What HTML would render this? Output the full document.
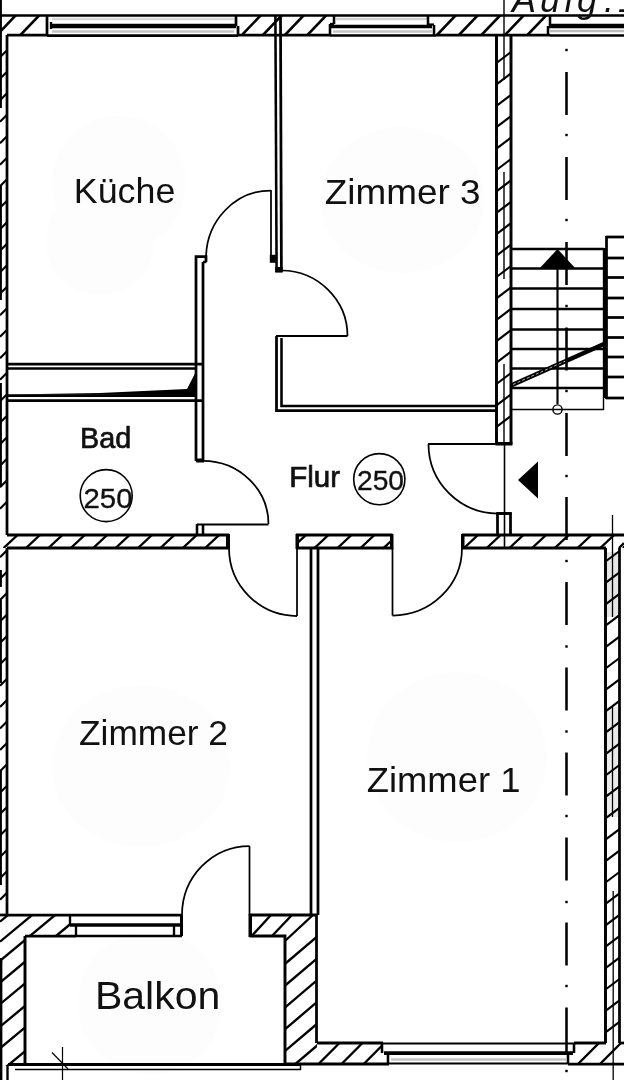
<!DOCTYPE html>
<html><head><meta charset="utf-8"><title>Grundriss</title>
<style>
html,body{margin:0;padding:0;background:#fff;}
body{width:624px;height:1080px;overflow:hidden;position:relative;font-family:"Liberation Sans",sans-serif;}
svg{position:absolute;left:0;top:0;display:block;filter:grayscale(1)}
text{font-family:"Liberation Sans",sans-serif;fill:#111;}
.big{font-size:34.5px;}
.sm{font-size:30px;stroke:#111;stroke-width:0.7px;}
.num{font-size:28.5px;stroke:#111;stroke-width:0.35px;}
</style></head><body>
<svg width="624" height="1080" viewBox="0 0 624 1080" shape-rendering="geometricPrecision">
<rect width="624" height="1080" fill="#fff"/>
<ellipse cx="119" cy="183" rx="67" ry="67" fill="#fdfdfd"/>
<ellipse cx="100" cy="241" rx="54" ry="54" fill="#fdfdfd"/>
<ellipse cx="402" cy="200" rx="82" ry="73" fill="#fdfdfd"/>
<ellipse cx="141" cy="766" rx="89" ry="81" fill="#fdfdfd"/>
<ellipse cx="457" cy="757" rx="90" ry="85" fill="#fdfdfd"/>
<ellipse cx="150" cy="1003" rx="72" ry="72" fill="#fdfdfd"/>
<line x1="0" y1="15.5" x2="624" y2="15.5" stroke="#000" stroke-width="2.35" />
<line x1="7" y1="35" x2="47" y2="35" stroke="#000" stroke-width="2.75" />
<line x1="47" y1="35.5" x2="238" y2="35.5" stroke="#000" stroke-width="2.75" />
<line x1="238" y1="35" x2="330" y2="35" stroke="#000" stroke-width="2.75" />
<line x1="330" y1="35.5" x2="436" y2="35.5" stroke="#000" stroke-width="2.55" />
<line x1="436" y1="35" x2="550" y2="35" stroke="#000" stroke-width="2.75" />
<line x1="550" y1="35.5" x2="624" y2="35.5" stroke="#000" stroke-width="2.55" />
<clipPath id="ctop"><rect x="0" y="15" width="47" height="20"/><rect x="238" y="15" width="93" height="20"/><rect x="432" y="15" width="116" height="20"/></clipPath>
<g clip-path="url(#ctop)">
<line x1="-3" y1="35" x2="16" y2="15" stroke="#000" stroke-width="2.55" />
<line x1="20.5" y1="35" x2="39.5" y2="15" stroke="#000" stroke-width="2.55" />
<line x1="242" y1="35" x2="261" y2="15" stroke="#000" stroke-width="2.55" />
<line x1="263" y1="35" x2="282" y2="15" stroke="#000" stroke-width="2.55" />
<line x1="285" y1="35" x2="304" y2="15" stroke="#000" stroke-width="2.55" />
<line x1="307.5" y1="35" x2="326.5" y2="15" stroke="#000" stroke-width="2.55" />
<line x1="437" y1="35" x2="456" y2="15" stroke="#000" stroke-width="2.55" />
<line x1="459" y1="35" x2="478" y2="15" stroke="#000" stroke-width="2.55" />
<line x1="481.5" y1="35" x2="500.5" y2="15" stroke="#000" stroke-width="2.55" />
<line x1="505" y1="35" x2="524" y2="15" stroke="#000" stroke-width="2.55" />
<line x1="527.5" y1="35" x2="546.5" y2="15" stroke="#000" stroke-width="2.55" />
</g>
<line x1="47" y1="15" x2="47" y2="35" stroke="#000" stroke-width="2.75" />
<line x1="51" y1="22" x2="51" y2="29" stroke="#000" stroke-width="2.35" />
<line x1="50" y1="26" x2="236" y2="26" stroke="#000" stroke-width="4.35" />
<line x1="52" y1="31.5" x2="234" y2="31.5" stroke="#c4c4c4" stroke-width="2.35" />
<line x1="52" y1="19" x2="234" y2="19" stroke="#d8d8d8" stroke-width="2.35" />
<line x1="236" y1="15" x2="236" y2="26" stroke="#000" stroke-width="2.75" />
<line x1="238" y1="26" x2="238" y2="35" stroke="#000" stroke-width="2.75" />
<line x1="334" y1="15" x2="334" y2="24" stroke="#000" stroke-width="2.55" />
<line x1="330" y1="24" x2="330" y2="35" stroke="#000" stroke-width="2.55" />
<line x1="330" y1="24" x2="334" y2="24" stroke="#000" stroke-width="2.35" />
<line x1="331" y1="26.5" x2="432" y2="26.5" stroke="#000" stroke-width="3.35" />
<line x1="333" y1="31.5" x2="432" y2="31.5" stroke="#c4c4c4" stroke-width="2.35" />
<line x1="336" y1="19" x2="427" y2="19" stroke="#d0d0d0" stroke-width="2.35" />
<line x1="428" y1="15" x2="428" y2="25" stroke="#000" stroke-width="2.55" />
<line x1="434" y1="25" x2="434" y2="35" stroke="#000" stroke-width="2.55" />
<line x1="428" y1="24.5" x2="434" y2="24.5" stroke="#000" stroke-width="2.15" />
<line x1="550" y1="15" x2="550" y2="26" stroke="#000" stroke-width="2.55" />
<line x1="548" y1="26" x2="548" y2="35" stroke="#000" stroke-width="2.55" />
<line x1="549" y1="26" x2="624" y2="26" stroke="#000" stroke-width="4.55" />
<line x1="550" y1="31" x2="624" y2="31" stroke="#bbb" stroke-width="2.35" />
<line x1="7" y1="35" x2="7" y2="535" stroke="#000" stroke-width="2.75" />
<line x1="7" y1="548" x2="7" y2="915" stroke="#000" stroke-width="2.75" />
<line x1="0.5" y1="0" x2="0.5" y2="108" stroke="#000" stroke-width="2.85" />
<line x1="0.5" y1="185" x2="0.5" y2="300" stroke="#000" stroke-width="2.85" />
<line x1="0.5" y1="383" x2="0.5" y2="487" stroke="#000" stroke-width="2.85" />
<line x1="0.5" y1="570" x2="0.5" y2="587" stroke="#000" stroke-width="2.85" />
<line x1="0.5" y1="600" x2="0.5" y2="683" stroke="#000" stroke-width="2.85" />
<line x1="0.5" y1="770" x2="0.5" y2="885" stroke="#000" stroke-width="2.85" />
<line x1="0" y1="57.2" x2="7" y2="50.2" stroke="#000" stroke-width="2.15" />
<line x1="0" y1="78.7" x2="7" y2="71.7" stroke="#000" stroke-width="2.15" />
<line x1="0" y1="100.2" x2="7" y2="93.2" stroke="#000" stroke-width="2.15" />
<line x1="0" y1="121.7" x2="7" y2="114.7" stroke="#000" stroke-width="2.15" />
<line x1="0" y1="143.2" x2="7" y2="136.2" stroke="#000" stroke-width="2.15" />
<line x1="0" y1="164.7" x2="7" y2="157.7" stroke="#000" stroke-width="2.15" />
<line x1="0" y1="186.2" x2="7" y2="179.2" stroke="#000" stroke-width="2.15" />
<line x1="0" y1="207.7" x2="7" y2="200.7" stroke="#000" stroke-width="2.15" />
<line x1="0" y1="229.2" x2="7" y2="222.2" stroke="#000" stroke-width="2.15" />
<line x1="0" y1="250.7" x2="7" y2="243.7" stroke="#000" stroke-width="2.15" />
<line x1="0" y1="272.2" x2="7" y2="265.2" stroke="#000" stroke-width="2.15" />
<line x1="0" y1="293.7" x2="7" y2="286.7" stroke="#000" stroke-width="2.15" />
<line x1="0" y1="315.2" x2="7" y2="308.2" stroke="#000" stroke-width="2.15" />
<line x1="0" y1="336.7" x2="7" y2="329.7" stroke="#000" stroke-width="2.15" />
<line x1="0" y1="358.2" x2="7" y2="351.2" stroke="#000" stroke-width="2.15" />
<line x1="0" y1="379.7" x2="7" y2="372.7" stroke="#000" stroke-width="2.15" />
<line x1="0" y1="401.2" x2="7" y2="394.2" stroke="#000" stroke-width="2.15" />
<line x1="0" y1="422.7" x2="7" y2="415.7" stroke="#000" stroke-width="2.15" />
<line x1="0" y1="444.2" x2="7" y2="437.2" stroke="#000" stroke-width="2.15" />
<line x1="0" y1="465.7" x2="7" y2="458.7" stroke="#000" stroke-width="2.15" />
<line x1="0" y1="487.2" x2="7" y2="480.2" stroke="#000" stroke-width="2.15" />
<line x1="0" y1="508.7" x2="7" y2="501.7" stroke="#000" stroke-width="2.15" />
<line x1="0" y1="557.3" x2="7" y2="550.3" stroke="#000" stroke-width="2.15" />
<line x1="0" y1="578.7" x2="7" y2="571.7" stroke="#000" stroke-width="2.15" />
<line x1="0" y1="600.1" x2="7" y2="593.1" stroke="#000" stroke-width="2.15" />
<line x1="0" y1="621.5" x2="7" y2="614.5" stroke="#000" stroke-width="2.15" />
<line x1="0" y1="642.9" x2="7" y2="635.9" stroke="#000" stroke-width="2.15" />
<line x1="0" y1="664.3" x2="7" y2="657.3" stroke="#000" stroke-width="2.15" />
<line x1="0" y1="685.7" x2="7" y2="678.7" stroke="#000" stroke-width="2.15" />
<line x1="0" y1="707.1" x2="7" y2="700.1" stroke="#000" stroke-width="2.15" />
<line x1="0" y1="728.5" x2="7" y2="721.5" stroke="#000" stroke-width="2.15" />
<line x1="0" y1="749.9" x2="7" y2="742.9" stroke="#000" stroke-width="2.15" />
<line x1="0" y1="771.3" x2="7" y2="764.3" stroke="#000" stroke-width="2.15" />
<line x1="0" y1="792.7" x2="7" y2="785.7" stroke="#000" stroke-width="2.15" />
<line x1="0" y1="814.1" x2="7" y2="807.1" stroke="#000" stroke-width="2.15" />
<line x1="0" y1="835.5" x2="7" y2="828.5" stroke="#000" stroke-width="2.15" />
<line x1="0" y1="856.9" x2="7" y2="849.9" stroke="#000" stroke-width="2.15" />
<line x1="0" y1="878.3" x2="7" y2="871.3" stroke="#000" stroke-width="2.15" />
<line x1="0" y1="899.7" x2="7" y2="892.7" stroke="#000" stroke-width="2.15" />
<line x1="275.4" y1="16" x2="276.6" y2="272" stroke="#000" stroke-width="2.55" />
<line x1="280.5" y1="16" x2="281.4" y2="272" stroke="#000" stroke-width="2.75" />
<rect x="269.8" y="254.8" width="6" height="8" fill="#000"/>
<rect x="275.2" y="267" width="7.4" height="5.6" fill="#000"/>
<line x1="271" y1="190" x2="271" y2="262" stroke="#000" stroke-width="1.75" />
<path d="M271,190.5 A65,68 0 0 0 206,258" stroke="#000" stroke-width="1.75" fill="none" />
<path d="M206,262 L206,256.5 L196,256.5 L196,461" stroke="#000" stroke-width="2.75" fill="none" />
<line x1="203" y1="262" x2="203" y2="461" stroke="#000" stroke-width="2.75" />
<line x1="203" y1="262" x2="206.5" y2="262" stroke="#000" stroke-width="2.35" />
<line x1="7" y1="364" x2="203" y2="364" stroke="#000" stroke-width="2.75" />
<line x1="7" y1="368.5" x2="196" y2="368.5" stroke="#000" stroke-width="2.55" />
<line x1="7" y1="395.5" x2="196" y2="395.5" stroke="#000" stroke-width="2.75" />
<line x1="7" y1="400.5" x2="203" y2="400.5" stroke="#000" stroke-width="2.75" />
<path d="M8,394.5 L100,393 L187,389 L197,369.5 L197,395 Z" stroke="#000" stroke-width="0" fill="#000" />
<path d="M281.5,270.5 A66.5,65.5 0 0 1 347.5,336" stroke="#000" stroke-width="1.75" fill="none" />
<line x1="276" y1="336" x2="347.5" y2="336" stroke="#000" stroke-width="1.79" />
<path d="M276.5,336 L276.5,410.5 L497,410.5" stroke="#000" stroke-width="2.75" fill="none" />
<path d="M281.5,338 L281.5,406 L497,406" stroke="#000" stroke-width="2.55" fill="none" />
<line x1="496.5" y1="35" x2="496.5" y2="444" stroke="#000" stroke-width="2.95" />
<line x1="511" y1="35" x2="511" y2="444" stroke="#000" stroke-width="2.95" />
<line x1="504" y1="0" x2="504" y2="80" stroke="#000" stroke-width="1.4" />
<line x1="504" y1="172" x2="504" y2="279" stroke="#000" stroke-width="1.4" />
<line x1="504" y1="364" x2="504" y2="444" stroke="#000" stroke-width="1.4" />
<line x1="504.5" y1="444" x2="504.5" y2="548" stroke="#000" stroke-width="1.6" />
<line x1="496.5" y1="63" x2="511" y2="52" stroke="#000" stroke-width="2.15" />
<line x1="496.5" y1="84.4" x2="511" y2="73.4" stroke="#000" stroke-width="2.15" />
<line x1="496.5" y1="105.8" x2="511" y2="94.8" stroke="#000" stroke-width="2.15" />
<line x1="496.5" y1="127.2" x2="511" y2="116.2" stroke="#000" stroke-width="2.15" />
<line x1="496.5" y1="148.6" x2="511" y2="137.6" stroke="#000" stroke-width="2.15" />
<line x1="496.5" y1="170.0" x2="511" y2="159.0" stroke="#000" stroke-width="2.15" />
<line x1="496.5" y1="191.4" x2="511" y2="180.4" stroke="#000" stroke-width="2.15" />
<line x1="496.5" y1="212.8" x2="511" y2="201.8" stroke="#000" stroke-width="2.15" />
<line x1="496.5" y1="234.2" x2="511" y2="223.2" stroke="#000" stroke-width="2.15" />
<line x1="496.5" y1="255.6" x2="511" y2="244.6" stroke="#000" stroke-width="2.15" />
<line x1="496.5" y1="277.0" x2="511" y2="266.0" stroke="#000" stroke-width="2.15" />
<line x1="496.5" y1="298.4" x2="511" y2="287.4" stroke="#000" stroke-width="2.15" />
<line x1="496.5" y1="319.8" x2="511" y2="308.8" stroke="#000" stroke-width="2.15" />
<line x1="496.5" y1="341.2" x2="511" y2="330.2" stroke="#000" stroke-width="2.15" />
<line x1="496.5" y1="362.6" x2="511" y2="351.6" stroke="#000" stroke-width="2.15" />
<line x1="496.5" y1="384.0" x2="511" y2="373.0" stroke="#000" stroke-width="2.15" />
<line x1="496.5" y1="405.4" x2="511" y2="394.4" stroke="#000" stroke-width="2.15" />
<line x1="496.5" y1="426.8" x2="511" y2="415.8" stroke="#000" stroke-width="2.15" />
<rect x="495.5" y="442" width="17" height="3.5" fill="#000"/>
<line x1="428" y1="444" x2="497" y2="444" stroke="#000" stroke-width="1.79" />
<path d="M428.5,444 A69.5,69.5 0 0 0 498,513.5" stroke="#000" stroke-width="1.75" fill="none" />
<path d="M497.5,535 L497.5,513.5 L510.5,513.5 L510.5,535" stroke="#000" stroke-width="2.75" fill="none" />
<rect x="496.5" y="512" width="15" height="3" fill="#000"/>
<line x1="7" y1="535" x2="229" y2="535" stroke="#000" stroke-width="2.95" />
<line x1="7" y1="548" x2="229" y2="548" stroke="#000" stroke-width="2.95" />
<rect x="226" y="534" width="4" height="15" fill="#000"/>
<line x1="296" y1="535" x2="392.5" y2="535" stroke="#000" stroke-width="2.95" />
<line x1="296" y1="548" x2="392.5" y2="548" stroke="#000" stroke-width="2.95" />
<rect x="295.5" y="534" width="3.5" height="15" fill="#000"/>
<rect x="390" y="534" width="3.5" height="15" fill="#000"/>
<line x1="462" y1="535" x2="624" y2="535" stroke="#000" stroke-width="2.95" />
<line x1="462" y1="548" x2="606" y2="548" stroke="#000" stroke-width="2.95" />
<rect x="461" y="534" width="3.5" height="15" fill="#000"/>
<clipPath id="cmid"><rect x="0" y="535" width="228" height="13"/><rect x="297" y="535" width="94" height="13"/><rect x="464" y="535" width="160" height="13"/></clipPath>
<g clip-path="url(#cmid)">
<line x1="3.6" y1="548" x2="17.6" y2="535" stroke="#000" stroke-width="2.35" />
<line x1="26.0" y1="548" x2="40.0" y2="535" stroke="#000" stroke-width="2.35" />
<line x1="48.4" y1="548" x2="62.4" y2="535" stroke="#000" stroke-width="2.35" />
<line x1="70.8" y1="548" x2="84.8" y2="535" stroke="#000" stroke-width="2.35" />
<line x1="93.2" y1="548" x2="107.2" y2="535" stroke="#000" stroke-width="2.35" />
<line x1="115.6" y1="548" x2="129.6" y2="535" stroke="#000" stroke-width="2.35" />
<line x1="138.0" y1="548" x2="152.0" y2="535" stroke="#000" stroke-width="2.35" />
<line x1="160.4" y1="548" x2="174.4" y2="535" stroke="#000" stroke-width="2.35" />
<line x1="182.8" y1="548" x2="196.8" y2="535" stroke="#000" stroke-width="2.35" />
<line x1="205.2" y1="548" x2="219.2" y2="535" stroke="#000" stroke-width="2.35" />
<line x1="292" y1="548" x2="306" y2="535" stroke="#000" stroke-width="2.35" />
<line x1="314.5" y1="548" x2="328.5" y2="535" stroke="#000" stroke-width="2.35" />
<line x1="337.5" y1="548" x2="351.5" y2="535" stroke="#000" stroke-width="2.35" />
<line x1="360.5" y1="548" x2="374.5" y2="535" stroke="#000" stroke-width="2.35" />
<line x1="383.5" y1="548" x2="397.5" y2="535" stroke="#000" stroke-width="2.35" />
<line x1="464" y1="548" x2="478" y2="535" stroke="#000" stroke-width="2.35" />
<line x1="486.7" y1="548" x2="500.7" y2="535" stroke="#000" stroke-width="2.35" />
<line x1="509.4" y1="548" x2="523.4" y2="535" stroke="#000" stroke-width="2.35" />
<line x1="532.1" y1="548" x2="546.1" y2="535" stroke="#000" stroke-width="2.35" />
<line x1="554.8" y1="548" x2="568.8" y2="535" stroke="#000" stroke-width="2.35" />
<line x1="577.5" y1="548" x2="591.5" y2="535" stroke="#000" stroke-width="2.35" />
<line x1="600.2" y1="548" x2="614.2" y2="535" stroke="#000" stroke-width="2.35" />
<line x1="622.9" y1="548" x2="636.9" y2="535" stroke="#000" stroke-width="2.35" />
</g>
<line x1="197" y1="524.5" x2="268.5" y2="524.5" stroke="#000" stroke-width="1.79" />
<path d="M203,460.8 A65.5,63.5 0 0 1 268.5,524" stroke="#000" stroke-width="1.75" fill="none" />
<rect x="196" y="458.5" width="8" height="4" fill="#000"/>
<line x1="197" y1="524" x2="197" y2="535" stroke="#000" stroke-width="2.55" />
<line x1="203" y1="524" x2="203" y2="535" stroke="#000" stroke-width="2.55" />
<line x1="297" y1="548" x2="297" y2="616" stroke="#000" stroke-width="1.75" />
<path d="M229,548 A68,68 0 0 0 297,616" stroke="#000" stroke-width="1.75" fill="none" />
<line x1="392.5" y1="548" x2="392.5" y2="615.5" stroke="#000" stroke-width="1.75" />
<path d="M392.5,615.5 A69.5,67.5 0 0 0 462,548" stroke="#000" stroke-width="1.75" fill="none" />
<line x1="311" y1="548" x2="311" y2="915" stroke="#000" stroke-width="2.75" />
<line x1="318" y1="548" x2="318" y2="915" stroke="#000" stroke-width="2.75" />
<line x1="605.5" y1="548" x2="605.5" y2="1043" stroke="#000" stroke-width="2.95" />
<line x1="619.5" y1="548" x2="619.5" y2="1043" stroke="#000" stroke-width="2.75" />
<line x1="619.5" y1="1043" x2="624" y2="1043" stroke="#000" stroke-width="2.75" />
<line x1="612.5" y1="515" x2="612.5" y2="617" stroke="#000" stroke-width="1.3" />
<line x1="612.5" y1="707" x2="612.5" y2="817" stroke="#000" stroke-width="1.3" />
<line x1="613.2" y1="891" x2="613.2" y2="1080" stroke="#000" stroke-width="1.3" />
<line x1="605.5" y1="561.5" x2="619.5" y2="551.0" stroke="#000" stroke-width="2.15" />
<line x1="605.5" y1="582.9" x2="619.5" y2="572.4" stroke="#000" stroke-width="2.15" />
<line x1="605.5" y1="604.3" x2="619.5" y2="593.8" stroke="#000" stroke-width="2.15" />
<line x1="605.5" y1="625.7" x2="619.5" y2="615.2" stroke="#000" stroke-width="2.15" />
<line x1="605.5" y1="647.1" x2="619.5" y2="636.6" stroke="#000" stroke-width="2.15" />
<line x1="605.5" y1="668.5" x2="619.5" y2="658.0" stroke="#000" stroke-width="2.15" />
<line x1="605.5" y1="689.9" x2="619.5" y2="679.4" stroke="#000" stroke-width="2.15" />
<line x1="605.5" y1="711.3" x2="619.5" y2="700.8" stroke="#000" stroke-width="2.15" />
<line x1="605.5" y1="732.7" x2="619.5" y2="722.2" stroke="#000" stroke-width="2.15" />
<line x1="605.5" y1="754.1" x2="619.5" y2="743.6" stroke="#000" stroke-width="2.15" />
<line x1="605.5" y1="775.5" x2="619.5" y2="765.0" stroke="#000" stroke-width="2.15" />
<line x1="605.5" y1="796.9" x2="619.5" y2="786.4" stroke="#000" stroke-width="2.15" />
<line x1="605.5" y1="818.3" x2="619.5" y2="807.8" stroke="#000" stroke-width="2.15" />
<line x1="605.5" y1="839.7" x2="619.5" y2="829.2" stroke="#000" stroke-width="2.15" />
<line x1="605.5" y1="861.1" x2="619.5" y2="850.6" stroke="#000" stroke-width="2.15" />
<line x1="605.5" y1="882.5" x2="619.5" y2="872.0" stroke="#000" stroke-width="2.15" />
<line x1="605.5" y1="903.9" x2="619.5" y2="893.4" stroke="#000" stroke-width="2.15" />
<line x1="605.5" y1="925.3" x2="619.5" y2="914.8" stroke="#000" stroke-width="2.15" />
<line x1="605.5" y1="946.7" x2="619.5" y2="936.2" stroke="#000" stroke-width="2.15" />
<line x1="605.5" y1="968.1" x2="619.5" y2="957.6" stroke="#000" stroke-width="2.15" />
<line x1="605.5" y1="989.5" x2="619.5" y2="979.0" stroke="#000" stroke-width="2.15" />
<line x1="605.5" y1="1010.9" x2="619.5" y2="1000.4" stroke="#000" stroke-width="2.15" />
<line x1="605.5" y1="1032.3" x2="619.5" y2="1021.8" stroke="#000" stroke-width="2.15" />
<rect x="607" y="552" width="11.5" height="65" fill="#000" opacity="0.10"/><rect x="607" y="707" width="11.5" height="110" fill="#000" opacity="0.08"/>
<line x1="619" y1="548" x2="624" y2="543" stroke="#000" stroke-width="2.35" />
<line x1="511" y1="249" x2="604" y2="249" stroke="#000" stroke-width="2.55" />
<line x1="511" y1="268.5" x2="604" y2="268.5" stroke="#000" stroke-width="2.55" />
<line x1="511" y1="288.5" x2="604" y2="288.5" stroke="#000" stroke-width="2.55" />
<line x1="511" y1="309" x2="604" y2="309" stroke="#000" stroke-width="2.55" />
<line x1="511" y1="329.5" x2="604" y2="329.5" stroke="#000" stroke-width="2.55" />
<line x1="511" y1="349" x2="604" y2="349" stroke="#000" stroke-width="2.55" />
<line x1="511" y1="368.5" x2="604" y2="368.5" stroke="#000" stroke-width="2.55" />
<line x1="511" y1="388" x2="604" y2="388" stroke="#000" stroke-width="2.55" />
<line x1="511" y1="409.5" x2="604" y2="409.5" stroke="#000" stroke-width="1.6" />
<line x1="604.5" y1="248" x2="604.5" y2="398" stroke="#000" stroke-width="3.35" />
<line x1="603.5" y1="398" x2="603.5" y2="410" stroke="#000" stroke-width="1.4" />
<line x1="606" y1="237" x2="624" y2="237" stroke="#000" stroke-width="2.75" />
<line x1="606" y1="258" x2="624" y2="258" stroke="#000" stroke-width="2.75" />
<line x1="606" y1="277.5" x2="624" y2="277.5" stroke="#000" stroke-width="2.75" />
<line x1="606" y1="298" x2="624" y2="298" stroke="#000" stroke-width="2.75" />
<line x1="606" y1="317.5" x2="624" y2="317.5" stroke="#000" stroke-width="2.75" />
<line x1="606" y1="337.5" x2="624" y2="337.5" stroke="#000" stroke-width="2.75" />
<line x1="606" y1="357" x2="624" y2="357" stroke="#000" stroke-width="2.75" />
<line x1="606" y1="377" x2="624" y2="377" stroke="#000" stroke-width="2.75" />
<line x1="606" y1="398" x2="624" y2="398" stroke="#000" stroke-width="2.75" />
<line x1="606.5" y1="236" x2="606.5" y2="399" stroke="#000" stroke-width="2.75" />
<line x1="557.5" y1="252" x2="557.5" y2="404" stroke="#000" stroke-width="2.15" />
<circle cx="557.5" cy="409.5" r="4.6" fill="none" stroke="#000" stroke-width="1.4"/>
<path d="M539,269 L557.5,249 L576,269 Z" stroke="#000" stroke-width="0" fill="#000" />
<line x1="511" y1="385.5" x2="604" y2="344" stroke="#000" stroke-width="4.55" />
<line x1="513" y1="384.5" x2="565" y2="361.3" stroke="#fff" stroke-width="0.7" stroke-dasharray="3 2"/>
<path d="M518,480 L538,461.5 L538,498.5 Z" stroke="#000" stroke-width="0" fill="#000" />
<line x1="566.5" y1="72" x2="566.5" y2="115" stroke="#000" stroke-width="2.55" />
<line x1="566.5" y1="157" x2="566.5" y2="200" stroke="#000" stroke-width="2.55" />
<line x1="566.5" y1="242" x2="566.5" y2="285" stroke="#000" stroke-width="2.55" />
<line x1="566.5" y1="327.5" x2="566.5" y2="370.5" stroke="#000" stroke-width="2.55" />
<line x1="566.5" y1="413" x2="566.5" y2="456" stroke="#000" stroke-width="2.55" />
<line x1="566.5" y1="497" x2="566.5" y2="540" stroke="#000" stroke-width="2.55" />
<line x1="566.5" y1="582" x2="566.5" y2="625" stroke="#000" stroke-width="2.55" />
<line x1="566.5" y1="667.5" x2="566.5" y2="710.5" stroke="#000" stroke-width="2.55" />
<line x1="566.5" y1="752.5" x2="566.5" y2="795.5" stroke="#000" stroke-width="2.55" />
<line x1="566.5" y1="837.5" x2="566.5" y2="880.5" stroke="#000" stroke-width="2.55" />
<line x1="566.5" y1="922.5" x2="566.5" y2="965.5" stroke="#000" stroke-width="2.55" />
<line x1="566.5" y1="1007.5" x2="566.5" y2="1055" stroke="#000" stroke-width="2.55" />
<rect x="565.3" y="48.8" width="2.4" height="2.4" fill="#000"/>
<rect x="565.3" y="133.8" width="2.4" height="2.4" fill="#000"/>
<rect x="565.3" y="218.8" width="2.4" height="2.4" fill="#000"/>
<rect x="565.3" y="304.8" width="2.4" height="2.4" fill="#000"/>
<rect x="565.3" y="389.8" width="2.4" height="2.4" fill="#000"/>
<rect x="565.3" y="474.8" width="2.4" height="2.4" fill="#000"/>
<rect x="565.3" y="559.8" width="2.4" height="2.4" fill="#000"/>
<rect x="565.3" y="645.3" width="2.4" height="2.4" fill="#000"/>
<rect x="565.3" y="730.3" width="2.4" height="2.4" fill="#000"/>
<rect x="565.3" y="814.8" width="2.4" height="2.4" fill="#000"/>
<rect x="565.3" y="900.8" width="2.4" height="2.4" fill="#000"/>
<rect x="565.3" y="984.8" width="2.4" height="2.4" fill="#000"/>
<rect x="565.3" y="1069.8" width="2.4" height="2.4" fill="#000"/>
<line x1="7" y1="915" x2="182" y2="915" stroke="#000" stroke-width="2.75" />
<line x1="0" y1="915" x2="7" y2="915" stroke="#000" stroke-width="2.75" />
<line x1="25" y1="936" x2="76" y2="936" stroke="#000" stroke-width="2.75" />
<line x1="70" y1="915" x2="70" y2="925" stroke="#000" stroke-width="2.35" />
<line x1="76" y1="925" x2="76" y2="936" stroke="#000" stroke-width="2.35" />
<line x1="70" y1="925" x2="180" y2="925" stroke="#000" stroke-width="3.55" />
<line x1="76" y1="936" x2="182" y2="936" stroke="#000" stroke-width="2.55" />
<line x1="174" y1="925" x2="174" y2="936" stroke="#000" stroke-width="2.35" />
<line x1="181.5" y1="915" x2="181.5" y2="936" stroke="#000" stroke-width="2.95" />
<line x1="249.5" y1="846" x2="249.5" y2="915" stroke="#000" stroke-width="1.75" />
<path d="M249.5,846 A67.5,69 0 0 0 182,915" stroke="#000" stroke-width="1.75" fill="none" />
<path d="M249.5,915 L317,915" stroke="#000" stroke-width="2.95" fill="none" />
<path d="M249.5,936 L285,936 L285,1065" stroke="#000" stroke-width="2.95" fill="none" />
<rect x="248.5" y="914" width="3.5" height="23" fill="#000"/>
<line x1="316.5" y1="915" x2="316.5" y2="1043" stroke="#000" stroke-width="2.75" />
<line x1="25" y1="936" x2="25" y2="1065" stroke="#000" stroke-width="2.95" />
<line x1="1" y1="958" x2="1" y2="1080" stroke="#000" stroke-width="2.75" />
<line x1="8" y1="1064.5" x2="301" y2="1064.5" stroke="#000" stroke-width="3.15" />
<line x1="15" y1="1069.5" x2="301" y2="1069.5" stroke="#000" stroke-width="1.5" />
<line x1="300.5" y1="1064" x2="300.5" y2="1070" stroke="#000" stroke-width="1.5" />
<line x1="7.5" y1="1065" x2="7.5" y2="1080" stroke="#000" stroke-width="2.35" />
<line x1="62.5" y1="1047" x2="62.5" y2="1080" stroke="#000" stroke-width="1.2" />
<line x1="52" y1="1052.5" x2="68" y2="1069" stroke="#000" stroke-width="1.2" />
<clipPath id="cbl"><rect x="0" y="915" width="70" height="21"/><rect x="0" y="936" width="25" height="130"/></clipPath>
<g clip-path="url(#cbl)">
<line x1="0" y1="921.7" x2="80" y2="855.3000000000001" stroke="#000" stroke-width="2.35" />
<line x1="0" y1="941.7" x2="80" y2="875.3000000000001" stroke="#000" stroke-width="2.35" />
<line x1="0" y1="960.8" x2="80" y2="894.4" stroke="#000" stroke-width="2.35" />
<line x1="0" y1="982.5" x2="80" y2="916.1" stroke="#000" stroke-width="2.35" />
<line x1="0" y1="1004.2" x2="80" y2="937.8000000000001" stroke="#000" stroke-width="2.35" />
<line x1="0" y1="1026.7" x2="80" y2="960.3000000000001" stroke="#000" stroke-width="2.35" />
<line x1="0" y1="1048.3" x2="80" y2="981.9" stroke="#000" stroke-width="2.35" />
<line x1="0" y1="1072" x2="80" y2="1005.6" stroke="#000" stroke-width="2.35" />
</g>
<clipPath id="cbr"><rect x="285" y="936" width="32" height="129"/></clipPath>
<g clip-path="url(#cbr)">
<line x1="250" y1="993.6" x2="330" y2="925.6" stroke="#000" stroke-width="2.35" />
<line x1="250" y1="1015.4" x2="330" y2="947.4" stroke="#000" stroke-width="2.35" />
<line x1="250" y1="1037.2" x2="330" y2="969.2" stroke="#000" stroke-width="2.35" />
<line x1="250" y1="1059.0" x2="330" y2="991.0" stroke="#000" stroke-width="2.35" />
<line x1="250" y1="1080.8" x2="330" y2="1012.8" stroke="#000" stroke-width="2.35" />
<line x1="250" y1="1102.6" x2="330" y2="1034.6" stroke="#000" stroke-width="2.35" />
<line x1="250" y1="1124.4" x2="330" y2="1056.4" stroke="#000" stroke-width="2.35" />
<line x1="250" y1="1146.2" x2="330" y2="1078.2" stroke="#000" stroke-width="2.35" />
<line x1="250" y1="1168.0" x2="330" y2="1100.0" stroke="#000" stroke-width="2.35" />
<line x1="250" y1="1189.8" x2="330" y2="1121.8" stroke="#000" stroke-width="2.35" />
<line x1="250" y1="1211.6" x2="330" y2="1143.6" stroke="#000" stroke-width="2.35" />
<line x1="250" y1="1233.4" x2="330" y2="1165.4" stroke="#000" stroke-width="2.35" />
</g>
<clipPath id="cbr2"><rect x="251" y="915" width="66" height="21"/><rect x="285" y="936" width="32" height="12"/></clipPath>
<g clip-path="url(#cbr2)">
<line x1="251.6" y1="936" x2="271" y2="915" stroke="#000" stroke-width="2.35" />
<line x1="272" y1="936" x2="292" y2="915" stroke="#000" stroke-width="2.35" />
<line x1="285" y1="941" x2="313" y2="915" stroke="#000" stroke-width="2.35" />
</g>
<line x1="317" y1="1043" x2="383" y2="1043" stroke="#000" stroke-width="2.95" />
<line x1="383" y1="1043.5" x2="574" y2="1043.5" stroke="#000" stroke-width="2.15" />
<line x1="574" y1="1043" x2="606" y2="1043" stroke="#000" stroke-width="2.95" />
<line x1="285" y1="1064" x2="389" y2="1064" stroke="#000" stroke-width="2.95" />
<line x1="389" y1="1063.5" x2="568" y2="1063.5" stroke="#000" stroke-width="2.15" />
<line x1="391" y1="1059.5" x2="566" y2="1059.5" stroke="#c4c4c4" stroke-width="2.35" />
<line x1="568" y1="1064" x2="624" y2="1064" stroke="#000" stroke-width="2.75" />
<line x1="382" y1="1043" x2="382" y2="1053" stroke="#000" stroke-width="2.55" />
<line x1="388" y1="1053" x2="388" y2="1064" stroke="#000" stroke-width="2.55" />
<line x1="384" y1="1053" x2="573" y2="1053" stroke="#000" stroke-width="3.75" />
<line x1="574" y1="1043" x2="574" y2="1053" stroke="#000" stroke-width="2.55" />
<line x1="568" y1="1053" x2="568" y2="1064" stroke="#000" stroke-width="2.55" />
<clipPath id="cb1"><rect x="317" y="1043" width="65" height="21"/><rect x="574" y="1043" width="50" height="21"/></clipPath>
<g clip-path="url(#cb1)">
<line x1="318.5" y1="1064" x2="339.5" y2="1043" stroke="#000" stroke-width="2.35" />
<line x1="341.5" y1="1064" x2="362.5" y2="1043" stroke="#000" stroke-width="2.35" />
<line x1="363.7" y1="1064" x2="384.7" y2="1043" stroke="#000" stroke-width="2.35" />
<line x1="578" y1="1064" x2="599" y2="1043" stroke="#000" stroke-width="2.35" />
<line x1="600" y1="1064" x2="621" y2="1043" stroke="#000" stroke-width="2.35" />
</g>
<text x="512 540 564 577 604 618" y="12" font-size="36" font-style="italic">Aufg.1</text>
<text class="big" x="73.8" y="202.7" textLength="101.5" lengthAdjust="spacingAndGlyphs">Küche</text>
<text class="big" x="324.8" y="204.4" textLength="155.6" lengthAdjust="spacingAndGlyphs">Zimmer 3</text>
<text class="big" x="79" y="744.8" textLength="149" lengthAdjust="spacingAndGlyphs">Zimmer 2</text>
<text class="big" x="366.7" y="791.8" textLength="153.7" lengthAdjust="spacingAndGlyphs">Zimmer 1</text>
<text x="94.9" y="1008.7" font-size="39.5" textLength="125.4" lengthAdjust="spacingAndGlyphs">Balkon</text>
<text class="sm" x="80" y="447.6" textLength="51.2" lengthAdjust="spacingAndGlyphs">Bad</text>
<text class="sm" x="289.2" y="487.3" textLength="50.9" lengthAdjust="spacingAndGlyphs">Flur</text>
<circle cx="106.2" cy="495.6" r="26" fill="none" stroke="#000" stroke-width="1.6"/>
<text class="num" x="83.5" y="507.5" textLength="49" lengthAdjust="spacingAndGlyphs">250</text>
<circle cx="379.3" cy="479.2" r="25.6" fill="none" stroke="#000" stroke-width="1.6"/>
<text class="num" x="357" y="490" textLength="47" lengthAdjust="spacingAndGlyphs">250</text>
</svg>
</body></html>
